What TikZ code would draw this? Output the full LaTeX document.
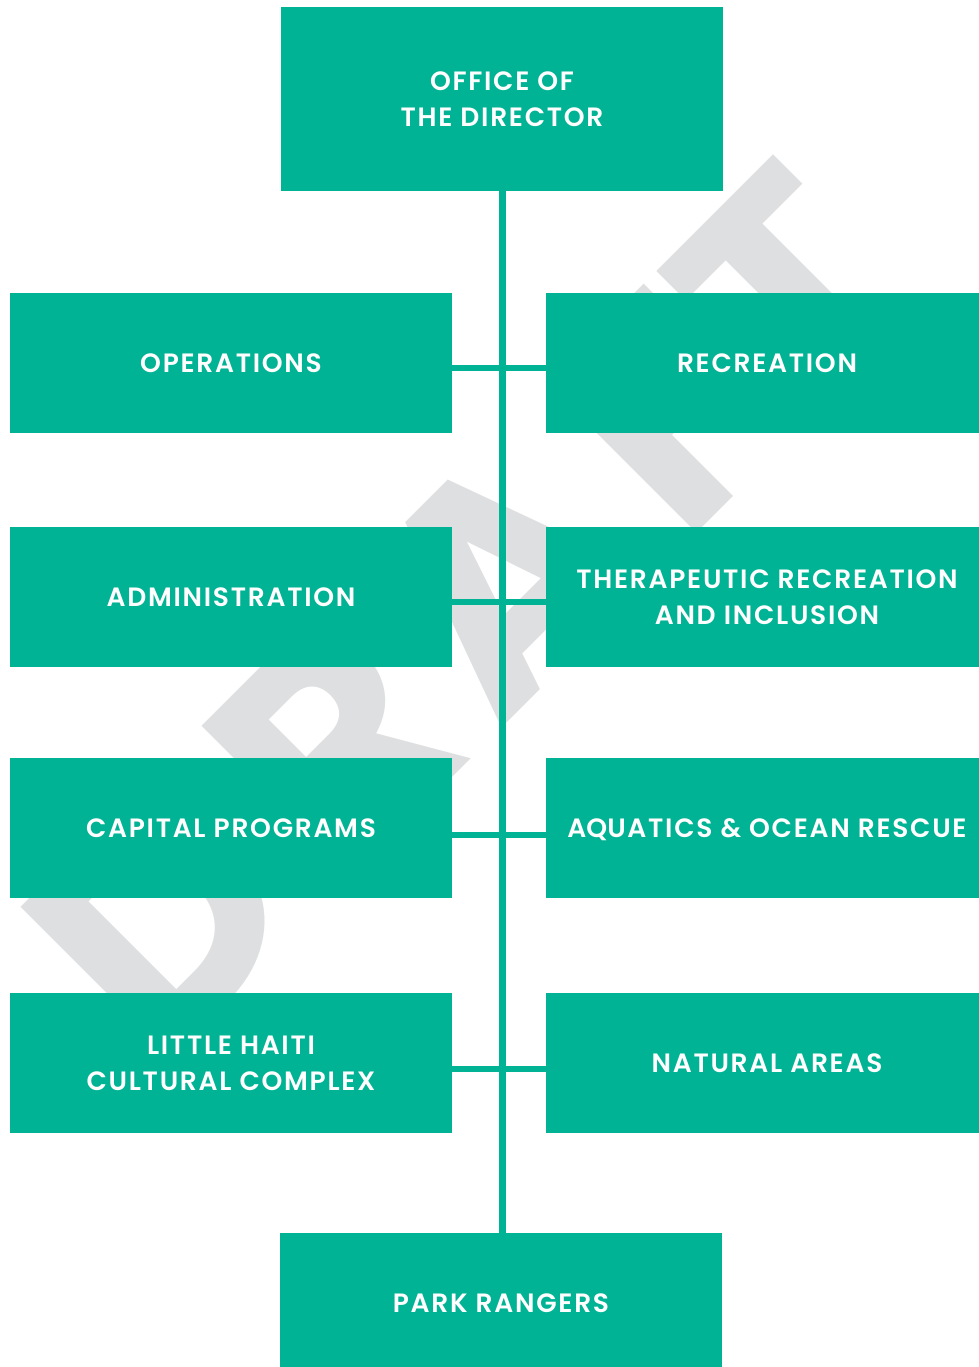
\documentclass[tikz,border=0pt]{standalone}
\usepackage{fontspec}
\setmainfont{Poppins}
\newfontfamily\boxfont{Poppins SemiBold}[LetterSpace=6.5]
\definecolor{tealbox}{HTML}{00B394}
\definecolor{wmgray}{HTML}{DEDFE1}
\begin{document}
\begin{tikzpicture}[x=1pt,y=-1pt,
  orgbox/.style={fill=tealbox, draw=none, minimum width=442pt, minimum height=140pt,
    inner sep=0pt, align=center, text=white, font=\boxfont\fontsize{26.5}{36}\selectfont},
  link/.style={draw=tealbox, line width=6.5pt},
  wm/.style={text=wmgray, rotate=45, anchor=base, inner sep=0pt,
    font=\bfseries\fontsize{304}{304}\selectfont}]
\useasboundingbox (0,0) rectangle (979,1367);
% watermark
\node[wm] (wD) at (237,993) {D};
\node[wm] (wR) at (410,820) {R};
\node[wm] (wA) at (578,652) {A};
\node[wm] (wF) at (742,488) {F};
\node[wm] (wT) at (866,364) {T};
% boxes
\node[orgbox, minimum height=184pt] (dir) at (502,98.8) {OFFICE OF\\THE DIRECTOR};
\node[orgbox] (ops) at (231,363) {OPERATIONS};
\node[orgbox] (rec) at (767,363) {RECREATION};
\node[orgbox] (adm) at (231,597) {ADMINISTRATION};
\node[orgbox] (ther) at (767,597) {THERAPEUTIC RECREATION\\AND INCLUSION};
\node[orgbox] (cap) at (231,828) {CAPITAL PROGRAMS};
\node[orgbox] (aqua) at (767,828) {A\smash{Q}UATICS \& OCEAN RESCUE};
\node[orgbox] (lhcc) at (231,1063) {LITTLE HAITI\\CULTURAL COMPLEX};
\node[orgbox] (nat) at (767,1063) {NATURAL AREAS};
\node[orgbox] (park) at (501,1303) {PARK RANGERS};
% connectors
\draw[link] ([xshift=0.5pt]dir.south) -- ([xshift=0.5pt]dir.south |- park.north);
\draw[link] ([yshift=-5pt]ops.east) -- ([yshift=-5pt]rec.west);
\draw[link] ([yshift=-5pt]adm.east) -- ([yshift=-5pt]ther.west);
\draw[link] ([yshift=-7pt]cap.east) -- ([yshift=-7pt]aqua.west);
\draw[link] ([yshift=-6pt]lhcc.east) -- ([yshift=-6pt]nat.west);
\end{tikzpicture}
\end{document}
